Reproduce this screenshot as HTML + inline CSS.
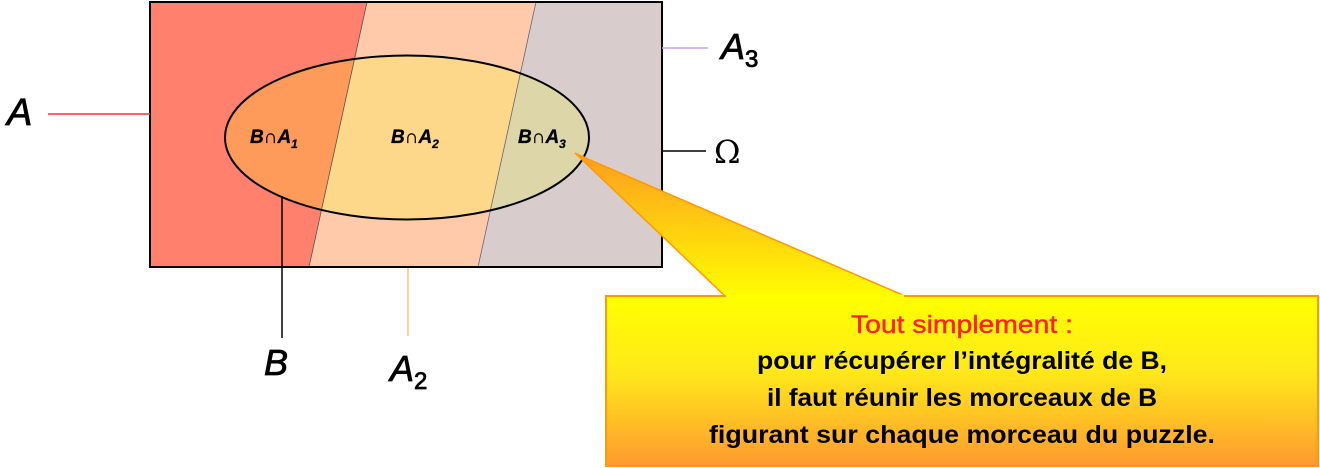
<!DOCTYPE html>
<html><head><meta charset="utf-8"><style>
html,body{margin:0;padding:0;background:#fff;}
svg{display:block;}
</style></head><body>
<svg width="1320" height="468" viewBox="0 0 1320 468" xmlns="http://www.w3.org/2000/svg">
<defs>
<linearGradient id="g" x1="0" y1="0" x2="0" y2="1">
<stop offset="0" stop-color="#ffff00"/><stop offset="0.45" stop-color="#ffe81a"/><stop offset="1" stop-color="#ff9a30"/>
</linearGradient>
<linearGradient id="gp" gradientUnits="userSpaceOnUse" x1="0" y1="150" x2="0" y2="300">
<stop offset="0" stop-color="#ff9a20"/><stop offset="1" stop-color="#ffff00"/>
</linearGradient>
<clipPath id="ce"><ellipse cx="407" cy="137.5" rx="182" ry="82"/></clipPath>
</defs>
<polygon points="150,2 367,2 309,267 150,267" fill="#ff806c"/>
<polygon points="367,2 536,2 478,267 309,267" fill="#ffcaa9"/>
<polygon points="536,2 662,2 662,267 478,267" fill="#d9cccc"/>
<g clip-path="url(#ce)">
<polygon points="150,2 367,2 309,267 150,267" fill="#fe9a5a"/>
<polygon points="367,2 536,2 478,267 309,267" fill="#fdd78a"/>
<polygon points="536,2 662,2 662,267 478,267" fill="#ddd6a8"/>
</g>
<line x1="367" y1="2" x2="309" y2="267" stroke="#555" stroke-width="0.8"/>
<line x1="536" y1="2" x2="478" y2="267" stroke="#667" stroke-width="0.8"/>
<ellipse cx="407" cy="137.5" rx="182" ry="82" fill="none" stroke="#000" stroke-width="2"/>
<rect x="150" y="2" width="512" height="265" fill="none" stroke="#000" stroke-width="2"/>
<polygon points="575,153 725,296 905,296 590,160" fill="url(#gp)" stroke="#ff9a00" stroke-width="1.5"/>
<rect x="606" y="296" width="712" height="170" fill="url(#g)" stroke="#ff9a00" stroke-width="2"/>
<line x1="726" y1="296" x2="904" y2="296" stroke="#ffff00" stroke-width="3"/>
<g font-family="Liberation Sans, sans-serif" font-weight="bold" font-size="25" text-anchor="middle">
<text x="962" y="333" fill="#ff2020" font-weight="normal" stroke="#ff2020" stroke-width="0.4" textLength="222" lengthAdjust="spacingAndGlyphs">Tout simplement :</text>
<text x="962" y="369" fill="#000" textLength="410" lengthAdjust="spacingAndGlyphs">pour récupérer l’intégralité de B,</text>
<text x="962" y="406" fill="#000" textLength="390" lengthAdjust="spacingAndGlyphs">il faut réunir les morceaux de B</text>
<text x="962" y="443" fill="#000" textLength="506" lengthAdjust="spacingAndGlyphs">figurant sur chaque morceau du puzzle.</text>
</g>
<line x1="48" y1="114" x2="150" y2="114" stroke="#ff3030" stroke-width="1.5"/>
<line x1="662" y1="48" x2="708" y2="48" stroke="#c8a0f0" stroke-width="1.5"/>
<line x1="662" y1="151" x2="706" y2="151" stroke="#000" stroke-width="1.5"/>
<line x1="282" y1="196" x2="282" y2="338" stroke="#000" stroke-width="1.5"/>
<line x1="408" y1="268" x2="408" y2="336" stroke="#ffc080" stroke-width="1.5"/>
<g font-family="Liberation Sans, sans-serif" font-style="italic" fill="#000" stroke="#000" stroke-width="0.8">
<text x="7" y="125" font-size="38">A</text>
<text x="721" y="59" font-size="36">A<tspan font-size="24" font-style="normal" dy="8">3</tspan></text>
<text x="264" y="375" font-size="36">B</text>
<text x="390" y="381" font-size="36">A<tspan font-size="24" font-style="normal" dy="8">2</tspan></text>
<g font-weight="bold" font-size="19" stroke-width="0.3">
<text x="250" y="143">B∩A<tspan font-size="12" dy="5">1</tspan></text>
<text x="391" y="143">B∩A<tspan font-size="12" dy="5">2</tspan></text>
<text x="518" y="143">B∩A<tspan font-size="12" dy="5">3</tspan></text>
</g>
</g>
<text x="714" y="163" font-family="DejaVu Serif, serif" font-size="32" fill="#000">Ω</text>
</svg>
</body></html>
